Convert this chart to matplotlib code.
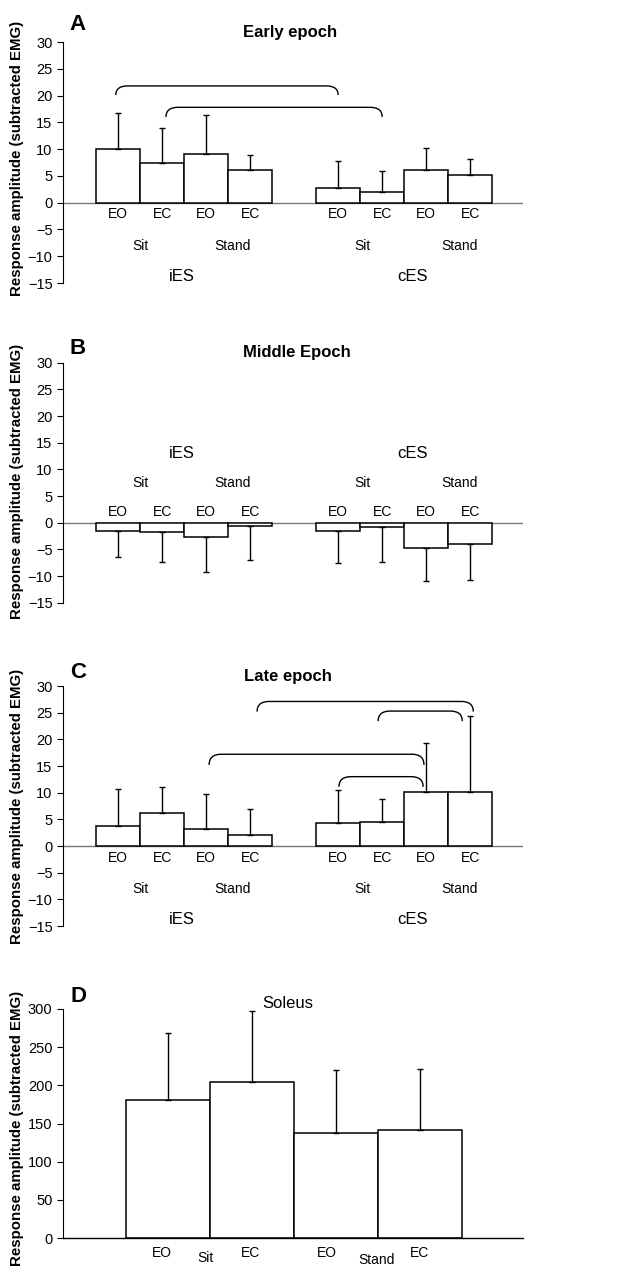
import matplotlib.pyplot as plt
from matplotlib.path import Path
from matplotlib.patches import PathPatch

plt.rcParams['font.family'] = ['Liberation Sans', 'DejaVu Sans']

conds = ['EO', 'EC', 'EO', 'EC', 'EO', 'EC', 'EO', 'EC']
postures = ['Sit', 'Stand', 'Sit', 'Stand']
sides = ['iES', 'cES']

# panel A - early epoch (iES sit EO, EC, stand EO, EC, then cES ...)
early_mean = [10.0, 7.4, 9.1, 6.1, 2.8, 1.9, 6.1, 5.2]
early_sd = [6.7, 6.6, 7.3, 2.8, 5.0, 4.0, 4.1, 2.9]
# panel B - middle epoch
middle_mean = [-1.6, -1.7, -2.7, -0.7, -1.6, -0.8, -4.8, -3.9]
middle_sd = [4.9, 5.7, 6.5, 6.2, 6.0, 6.6, 6.2, 6.9]
# panel C - late epoch
late_mean = [3.8, 6.2, 3.1, 2.1, 4.4, 4.5, 10.1, 10.1]
late_sd = [6.9, 4.8, 6.7, 4.8, 6.1, 4.3, 9.2, 14.3]
# panel D - soleus
sol_cond = ['EO', 'EC', 'EO', 'EC']
sol_mean = [181, 204, 138, 141]
sol_sd = [87, 94, 82, 81]

# significance brackets (x0, x1, y_end, y_top)
brackets_A = [(1.2, 6.25, 20.1, 21.8), (2.34, 7.25, 16.0, 17.8)]
brackets_C = [(4.41, 9.32, 25.2, 27.1), (7.16, 9.07, 23.4, 25.3),
              (3.32, 8.2, 15.2, 17.2), (6.27, 8.18, 11.1, 13.0)]

xpos = [1.25, 2.25, 3.25, 4.25, 6.25, 7.25, 8.25, 9.25]
posture_x = [1.75, 3.85, 6.8, 9.0]
side_x = [2.7, 7.95]

W, H = 625, 1275
fig = plt.figure(figsize=(W / 100, H / 100), dpi=100)


def px_axes(top, bottom, left=63, right=523):
    return fig.add_axes([left / W, 1 - bottom / H, (right - left) / W, (bottom - top) / H])


def bracket(ax, x0, x1, ye, yt, dx=0.28):
    verts = [(x0, ye), (x0, ye + 0.7 * (yt - ye)), (x0 + 0.35 * dx, yt), (x0 + dx, yt),
             (x1 - dx, yt),
             (x1 - 0.35 * dx, yt), (x1, ye + 0.7 * (yt - ye)), (x1, ye)]
    codes = [Path.MOVETO, Path.CURVE4, Path.CURVE4, Path.CURVE4, Path.LINETO,
             Path.CURVE4, Path.CURVE4, Path.CURVE4]
    ax.add_patch(PathPatch(Path(verts, codes), fill=False, lw=1.0, ec='black'))


def epoch_panel(top, bottom, means, sds, cond_y, post_y, side_y):
    ax = px_axes(top, bottom)
    ax.bar(xpos, means, width=1.0, color='white', edgecolor='black', lw=1.1, zorder=2)
    lo = [0 if m >= 0 else s for m, s in zip(means, sds)]
    hi = [s if m >= 0 else 0 for m, s in zip(means, sds)]
    ax.errorbar(xpos, means, yerr=[lo, hi], fmt='none', ecolor='black',
                elinewidth=1.0, capsize=2.5, capthick=1.0, zorder=3)
    ax.axhline(0, color='#777777', lw=1.0, zorder=1)
    ax.set_xlim(0, 10.45)
    ax.set_ylim(-15, 30)
    ax.set_yticks(range(-15, 31, 5))
    ax.set_xticks([])
    for s in ['top', 'right', 'bottom']:
        ax.spines[s].set_visible(False)
    ax.spines['left'].set_linewidth(0.8)
    ax.tick_params(axis='y', length=4, width=0.8, labelsize=10.5)
    for x, c in zip(xpos, conds):
        ax.text(x, cond_y, c, ha='center', va='center', fontsize=10)
    for x, p in zip(posture_x, postures):
        ax.text(x, post_y, p, ha='center', va='center', fontsize=10)
    for x, s in zip(side_x, sides):
        ax.text(x, side_y, s, ha='center', va='center', fontsize=12)
    return ax


axA = epoch_panel(42, 283, early_mean, early_sd, -2.1, -8.1, -13.8)
for b in brackets_A:
    bracket(axA, *b)
axB = epoch_panel(362.7, 602.7, middle_mean, middle_sd, 2.0, 7.4, 12.9)
axC = epoch_panel(686, 926, late_mean, late_sd, -2.3, -8.1, -13.8)
for b in brackets_C:
    bracket(axC, *b)

# panel D
axD = px_axes(1009, 1238)
dpos = [1.25, 2.25, 3.25, 4.25]
axD.bar(dpos, sol_mean, width=1.0, color='white', edgecolor='black', lw=1.1, zorder=2)
axD.errorbar(dpos, sol_mean, yerr=[[0] * 4, sol_sd], fmt='none', ecolor='black',
             elinewidth=1.0, capsize=2.5, capthick=1.0, zorder=3)
axD.set_xlim(0, 5.476)
axD.set_ylim(0, 300)
axD.set_yticks(range(0, 301, 50))
axD.set_xticks([])
for s in ['top', 'right']:
    axD.spines[s].set_visible(False)
axD.spines['left'].set_linewidth(0.8)
axD.spines['bottom'].set_linewidth(1.0)
axD.tick_params(axis='y', length=4, width=0.8, labelsize=10.5)
for x, c in zip([1.18, 2.23, 3.14, 4.24], sol_cond):
    axD.text(x, -19.6, c, ha='center', va='center', fontsize=10, clip_on=False)
axD.text(1.69, -26, 'Sit', ha='center', va='center', fontsize=10, clip_on=False)
axD.text(3.73, -29, 'Stand', ha='center', va='center', fontsize=10, clip_on=False)

# titles, panel letters, y labels
titles = [('Early epoch', 290, 33, 'bold'), ('Middle Epoch', 297, 352, 'bold'),
          ('Late epoch', 288, 677, 'bold'), ('Soleus', 288, 1003, 'normal')]
for t, x, y, w in titles:
    fig.text(x / W, 1 - y / H, t, ha='center', va='center', fontsize=12, fontweight=w)
for l, y in zip('ABCD', [25, 349, 673, 997]):
    fig.text(78 / W, 1 - y / H, l, ha='center', va='center', fontsize=16, fontweight='bold')
for y in [158, 481, 806, 1128]:
    fig.text(17.5 / W, 1 - y / H, 'Response amplitude (subtracted EMG)', rotation=90,
             ha='center', va='center', fontsize=10.8, fontweight='bold')

fig.savefig('out.png', dpi=100)
